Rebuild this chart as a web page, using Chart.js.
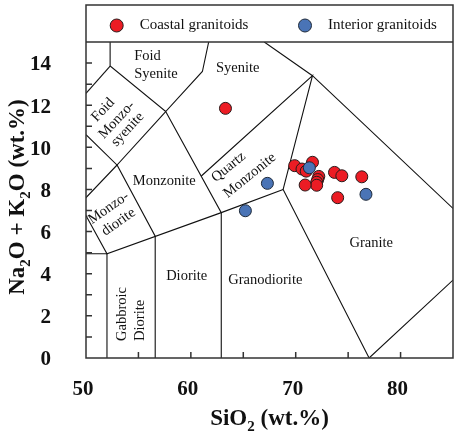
<!DOCTYPE html>
<html>
<head>
<meta charset="utf-8">
<script src="https://cdn.jsdelivr.net/npm/chart.js@4.4.0/dist/chart.umd.min.js"></script>
<style>
  body { margin: 0; background: #fff; }
  canvas { display: block; }
</style>
</head>
<body>
<canvas id="tas" width="460" height="434"></canvas>
<script>
// sample values
var coastalSiO2 = [63.3, 69.9, 70.6, 71.6, 71.0, 72.2, 72.1, 72.0, 72.0, 70.9, 73.7, 74.4, 76.3, 74.0];
var coastalAlk  = [11.85, 9.13, 8.97, 9.29, 8.87, 8.62, 8.47, 8.34, 8.2, 8.21, 8.81, 8.65, 8.6, 7.61];
var interiorSiO2 = [71.3, 76.7, 67.3, 65.2];
var interiorAlk  = [9.03, 7.77, 8.29, 6.99];

var xTicks = [50, 60, 70, 80];
var yTicks = [0, 2, 4, 6, 8, 10, 12, 14];

// field boundaries (SiO2, Na2O+K2O)
var zoneLines = [
    [[52.3, 15], [52.3, 13.86], [57.6, 11.7], [61.1, 13.6], [61.7, 15]],
    [[50, 12.56], [52.3, 13.86]],
    [[67.0, 15], [71.6, 13.4], [85, 7.1]],
    [[61.0, 8.64], [71.6, 13.4], [68.8, 8.0], [77.0, 0], [85, 3.7]],
    [[57.6, 11.7], [62.9, 6.9], [62.9, 0]],
    [[49.4, 7.3], [52.0, 4.95], [62.9, 6.9], [68.8, 8.0]],
    [[49, 4.95], [52.0, 4.95], [52.0, 0]],
    [[50, 10.6], [52.96, 9.16], [57.6, 11.7]],
    [[49.4, 7.3], [52.96, 9.16], [56.6, 5.78], [56.6, 0]]
];

// field names: text, SiO2, alkali, rotation (deg), align
var zoneLabels = [
    ['Foid', 54.6, 14.33, 0, 'left'],
    ['Syenite', 54.6, 13.48, 0, 'left'],
    ['Syenite', 64.46, 13.76, 0, 'center'],
    ['Foid', 51.63, 11.77, -47, 'center'],
    ['Monzo-', 52.94, 11.3, -47, 'center'],
    ['syenite', 53.97, 10.85, -47, 'center'],
    ['Monzonite', 57.46, 8.4, 0, 'center'],
    ['Quartz', 63.6, 9.06, -39, 'center'],
    ['Monzonite', 65.62, 8.66, -39, 'center'],
    ['Monzo-', 52.16, 7.12, -35, 'center'],
    ['diorite', 53.1, 6.45, -35, 'center'],
    ['Granite', 77.2, 5.47, 0, 'center'],
    ['Diorite', 59.6, 3.86, 0, 'center'],
    ['Granodiorite', 67.1, 3.67, 0, 'center'],
    ['Gabbroic', 53.43, 0.81, -90, 'left'],
    ['Diorite', 55.21, 0.81, -90, 'left']
];

function toPoints(xs, ys) {
    var pts = [];
    for (var i = 0; i < xs.length; i++) pts.push({x: xs[i], y: ys[i]});
    return pts;
}

var datasets = [{
    label: 'Coastal granitoids',
    data: toPoints(coastalSiO2, coastalAlk),
    backgroundColor: '#ec1c24',
    borderColor: '#2a1a1a',
    borderWidth: 1,
    pointRadius: 6,
    order: 2
}, {
    label: 'Interior granitoids',
    data: toPoints(interiorSiO2, interiorAlk),
    backgroundColor: '#4a74b6',
    borderColor: '#1e2a3a',
    borderWidth: 1,
    pointRadius: 6,
    order: 1
}];

zoneLines.forEach(function (line) {
    datasets.push({
        data: line.map(function (p) { return {x: p[0], y: p[1]}; }),
        showLine: true,
        borderColor: '#111',
        borderWidth: 1.1,
        pointRadius: 0,
        order: 5
    });
});

var SERIF = '"Liberation Serif", "Times New Roman", serif';
var legendTop = 5;

function drawRich(ctx, parts, size) {
    var small = Math.round(size * 0.66);
    var widths = parts.map(function (p) {
        ctx.font = 'bold ' + (p[1] ? small : size) + 'px ' + SERIF;
        return ctx.measureText(p[0]).width;
    });
    var total = widths.reduce(function (a, b) { return a + b; }, 0);
    var x = -total / 2;
    parts.forEach(function (p, i) {
        ctx.font = 'bold ' + (p[1] ? small : size) + 'px ' + SERIF;
        ctx.fillText(p[0], x, p[1] ? size * 0.26 : 0);
        x += widths[i];
    });
}

var tasPlugin = {
    id: 'tas',
    beforeDatasetsDraw: function (chart) {
        var ctx = chart.ctx, xs = chart.scales.x, ys = chart.scales.y;
        ctx.save();
        ctx.fillStyle = '#111';
        ctx.font = '14.5px ' + SERIF;
        ctx.textBaseline = 'middle';
        zoneLabels.forEach(function (l) {
            ctx.save();
            ctx.translate(xs.getPixelForValue(l[1]), ys.getPixelForValue(l[2]));
            ctx.rotate(l[3] * Math.PI / 180);
            ctx.textAlign = l[4];
            ctx.fillText(l[0], 0, 0);
            ctx.restore();
        });
        ctx.restore();
    },
    afterDraw: function (chart) {
        var ctx = chart.ctx, a = chart.chartArea;
        var xs = chart.scales.x, ys = chart.scales.y;
        ctx.save();
        ctx.strokeStyle = '#333';
        ctx.lineWidth = 1.5;
        ctx.strokeRect(a.left, legendTop, a.right - a.left, a.bottom - legendTop);
        ctx.beginPath();
        ctx.moveTo(a.left, a.top);
        ctx.lineTo(a.right, a.top);
        // inward ticks
        for (var v = 1; v < 15; v++) {
            var py = ys.getPixelForValue(v);
            ctx.moveTo(a.left, py);
            ctx.lineTo(a.left + 6, py);
        }
        for (var u = 55; u < 85; u += 5) {
            var px = xs.getPixelForValue(u);
            ctx.moveTo(px, a.bottom);
            ctx.lineTo(px, a.bottom - 6);
        }
        ctx.stroke();

        // legend
        var items = chart.data.datasets.filter(function (d) { return d.label; });
        var markX = [116.7, 305];
        var midY = (legendTop + a.top) / 2 + 2;
        ctx.font = '15px ' + SERIF;
        ctx.textBaseline = 'middle';
        ctx.textAlign = 'left';
        items.forEach(function (d, i) {
            ctx.beginPath();
            ctx.arc(markX[i], midY, 6.5, 0, Math.PI * 2);
            ctx.fillStyle = d.backgroundColor;
            ctx.fill();
            ctx.lineWidth = 1;
            ctx.strokeStyle = d.borderColor;
            ctx.stroke();
            ctx.fillStyle = '#111';
            ctx.fillText(d.label, markX[i] + 23, midY);
        });

        // axis titles
        ctx.fillStyle = '#111';
        ctx.textAlign = 'left';
        ctx.textBaseline = 'alphabetic';
        ctx.save();
        ctx.translate((a.left + a.right) / 2, 425);
        drawRich(ctx, [['SiO', 0], ['2', 1], [' (wt.%)', 0]], 23);
        ctx.restore();
        ctx.save();
        ctx.translate(24, (a.top + a.bottom) / 2 - 3);
        ctx.rotate(-Math.PI / 2);
        drawRich(ctx, [['Na', 0], ['2', 1], ['O + K', 0], ['2', 1], ['O (wt.%)', 0]], 23);
        ctx.restore();
        ctx.restore();
    }
};

var tickFont = {family: SERIF, size: 21, weight: 'bold'};

var tasChart = new Chart(document.getElementById('tas').getContext('2d'), {
    type: 'scatter',
    data: {datasets: datasets},
    options: {
        responsive: false,
        animation: false,
        layout: {padding: {top: 42, right: 1, left: 0, bottom: 0}},
        plugins: {
            legend: {display: false},
            tooltip: {enabled: false}
        },
        scales: {
            x: {
                type: 'linear',
                min: 50,
                max: 85,
                afterFit: function (s) { s.height = 76; },
                afterBuildTicks: function (s) {
                    s.ticks = xTicks.map(function (v) { return {value: v}; });
                },
                ticks: {font: tickFont, color: '#111', padding: 11, labelOffset: -3, maxRotation: 0},
                grid: {display: false},
                border: {display: false}
            },
            y: {
                min: 0,
                max: 15,
                afterFit: function (s) { s.width = 86; },
                afterBuildTicks: function (s) {
                    s.ticks = yTicks.map(function (v) { return {value: v}; });
                },
                ticks: {font: tickFont, color: '#111', padding: 27, labelOffset: 2},
                grid: {display: false},
                border: {display: false}
            }
        }
    },
    plugins: [tasPlugin]
});
</script>
</body>
</html>
